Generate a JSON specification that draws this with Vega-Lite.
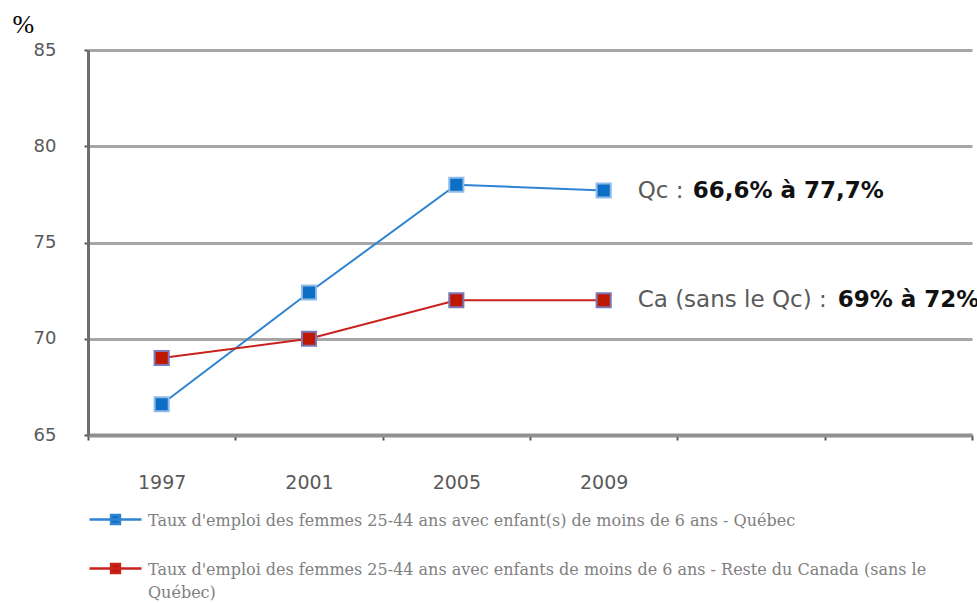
{
  "$schema": "https://vega.github.io/schema/vega-lite/v6.json",
  "width": 884,
  "height": 385,
  "autosize": {"type": "none"},
  "padding": {"left": 88, "top": 50, "right": 5, "bottom": 168},
  "background": "white",
  "config": {"view": {"stroke": null}, "font": "DejaVu Sans"},
  "datasets": {
    "series": [
      {"annee": "1997", "serie": "Taux d'emploi des femmes 25-44 ans avec enfant(s) de moins de 6 ans - Québec", "taux": 66.6},
      {"annee": "2001", "serie": "Taux d'emploi des femmes 25-44 ans avec enfant(s) de moins de 6 ans - Québec", "taux": 72.4},
      {"annee": "2005", "serie": "Taux d'emploi des femmes 25-44 ans avec enfant(s) de moins de 6 ans - Québec", "taux": 78.0},
      {"annee": "2009", "serie": "Taux d'emploi des femmes 25-44 ans avec enfant(s) de moins de 6 ans - Québec", "taux": 77.7},
      {"annee": "1997", "serie": "Taux d'emploi des femmes 25-44 ans avec enfants de moins de 6 ans - Reste du Canada (sans le Québec)", "taux": 69.0},
      {"annee": "2001", "serie": "Taux d'emploi des femmes 25-44 ans avec enfants de moins de 6 ans - Reste du Canada (sans le Québec)", "taux": 70.0},
      {"annee": "2005", "serie": "Taux d'emploi des femmes 25-44 ans avec enfants de moins de 6 ans - Reste du Canada (sans le Québec)", "taux": 72.0},
      {"annee": "2009", "serie": "Taux d'emploi des femmes 25-44 ans avec enfants de moins de 6 ans - Reste du Canada (sans le Québec)", "taux": 72.0}
    ],
    "notes": [
      {"annee": "2009", "taux": 77.7, "cle": "Qc", "normal": "Qc : ", "gras": "66,6% à 77,7%"},
      {"annee": "2009", "taux": 72.0, "cle": "Ca", "normal": "Ca (sans le Qc) : ", "gras": "69% à 72%"}
    ]
  },
  "encoding": {
    "x": {
      "field": "annee",
      "type": "ordinal",
      "bandPosition": 0.5,
      "scale": {"type": "band", "domain": ["1997", "2001", "2005", "2009", " ", "  "], "paddingInner": 0, "paddingOuter": 0},
      "axis": {
        "title": null,
        "labelAngle": 0,
        "grid": false,
        "domainColor": "#909090",
        "domainWidth": 4,
        "ticks": true,
        "tickBand": "extent",
        "tickColor": "#555555",
        "tickSize": 5,
        "tickWidth": 2,
        "labelFont": "DejaVu Sans",
        "labelFontSize": 19,
        "labelColor": "#595959",
        "labelPadding": 33
      }
    },
    "y": {
      "field": "taux",
      "type": "quantitative",
      "scale": {"domain": [65, 85], "nice": false, "zero": false},
      "axis": {
        "values": [65, 70, 75, 80, 85],
        "grid": true,
        "gridColor": "#a6a6a6",
        "gridWidth": 3,
        "domainColor": "#6e6e6e",
        "domainWidth": 3,
        "tickColor": "#555555",
        "tickSize": 4,
        "tickWidth": 2,
        "labelFont": "DejaVu Sans",
        "labelFontSize": 18,
        "labelColor": "#595959",
        "labelPadding": 28,
        "title": "%",
        "titleAngle": 0,
        "titleFont": "Liberation Serif",
        "titleFontSize": 26,
        "titleFontWeight": "normal",
        "titleColor": "#000000",
        "titleAlign": "left",
        "titleBaseline": "alphabetic",
        "titleX": -76,
        "titleY": -18
      }
    }
  },
  "layer": [
    {
      "data": {"name": "series"},
      "mark": {"type": "line", "strokeWidth": 2},
      "encoding": {
        "color": {
          "field": "serie",
          "type": "nominal",
          "scale": {
            "domain": [
              "Taux d'emploi des femmes 25-44 ans avec enfant(s) de moins de 6 ans - Québec",
              "Taux d'emploi des femmes 25-44 ans avec enfants de moins de 6 ans - Reste du Canada (sans le Québec)"
            ],
            "range": ["#2f83d3", "#c8221e"]
          },
          "legend": {
            "orient": "none",
            "legendX": 0,
            "legendY": 442,
            "direction": "vertical",
            "title": null,
            "padding": 0,
            "symbolType": "M-1,0H1M-0.17,-0.17H0.17V0.17H-0.17Z",
            "symbolSize": 2704,
            "symbolStrokeWidth": 2.5,
            "labelFont": "DejaVu Serif",
            "labelFontSize": 16,
            "labelColor": "#808080",
            "labelLimit": 0,
            "labelOffset": 5,
            "labelBaseline": "alphabetic",
            "rowPadding": 12,
            "labelExpr": "indexof(datum.label, '(sans le') > 0 ? [replace(datum.label, ' Québec)', ''), 'Québec)'] : datum.label",
            "encode": {
              "symbols": {"update": {"fill": {"scale": "color", "field": "value"}, "stroke": {"scale": "color", "field": "value"}}},
              "labels": {"update": {"dy": {"value": 6}, "lineHeight": {"value": 23}}}
            }
          }
        }
      }
    },
    {
      "data": {"name": "series"},
      "mark": {"type": "point", "shape": "square", "filled": true, "size": 200, "strokeWidth": 2, "opacity": 1},
      "encoding": {
        "fill": {
          "field": "serie",
          "type": "nominal",
          "scale": {
            "domain": [
              "Taux d'emploi des femmes 25-44 ans avec enfant(s) de moins de 6 ans - Québec",
              "Taux d'emploi des femmes 25-44 ans avec enfants de moins de 6 ans - Reste du Canada (sans le Québec)"
            ],
            "range": ["#0c6fc5", "#c01800"]
          },
          "legend": null
        },
        "stroke": {
          "field": "serie",
          "type": "nominal",
          "scale": {
            "domain": [
              "Taux d'emploi des femmes 25-44 ans avec enfant(s) de moins de 6 ans - Québec",
              "Taux d'emploi des femmes 25-44 ans avec enfants de moins de 6 ans - Reste du Canada (sans le Québec)"
            ],
            "range": ["#8fbbe8", "#7b78b8"]
          },
          "legend": null
        }
      }
    },
    {
      "data": {"name": "notes"},
      "mark": {"type": "text", "align": "left", "baseline": "middle", "dx": 34, "font": "DejaVu Sans", "fontSize": 23, "color": "#595959"},
      "encoding": {"text": {"field": "normal"}}
    },
    {
      "data": {"name": "notes"},
      "transform": [{"filter": "datum.cle == 'Qc'"}],
      "mark": {"type": "text", "align": "left", "baseline": "middle", "dx": 89, "font": "DejaVu Sans", "fontSize": 23, "fontWeight": "bold", "color": "#111111"},
      "encoding": {"text": {"field": "gras"}}
    },
    {
      "data": {"name": "notes"},
      "transform": [{"filter": "datum.cle == 'Ca'"}],
      "mark": {"type": "text", "align": "left", "baseline": "middle", "dx": 234, "font": "DejaVu Sans", "fontSize": 23, "fontWeight": "bold", "color": "#111111"},
      "encoding": {"text": {"field": "gras"}}
    }
  ]
}
